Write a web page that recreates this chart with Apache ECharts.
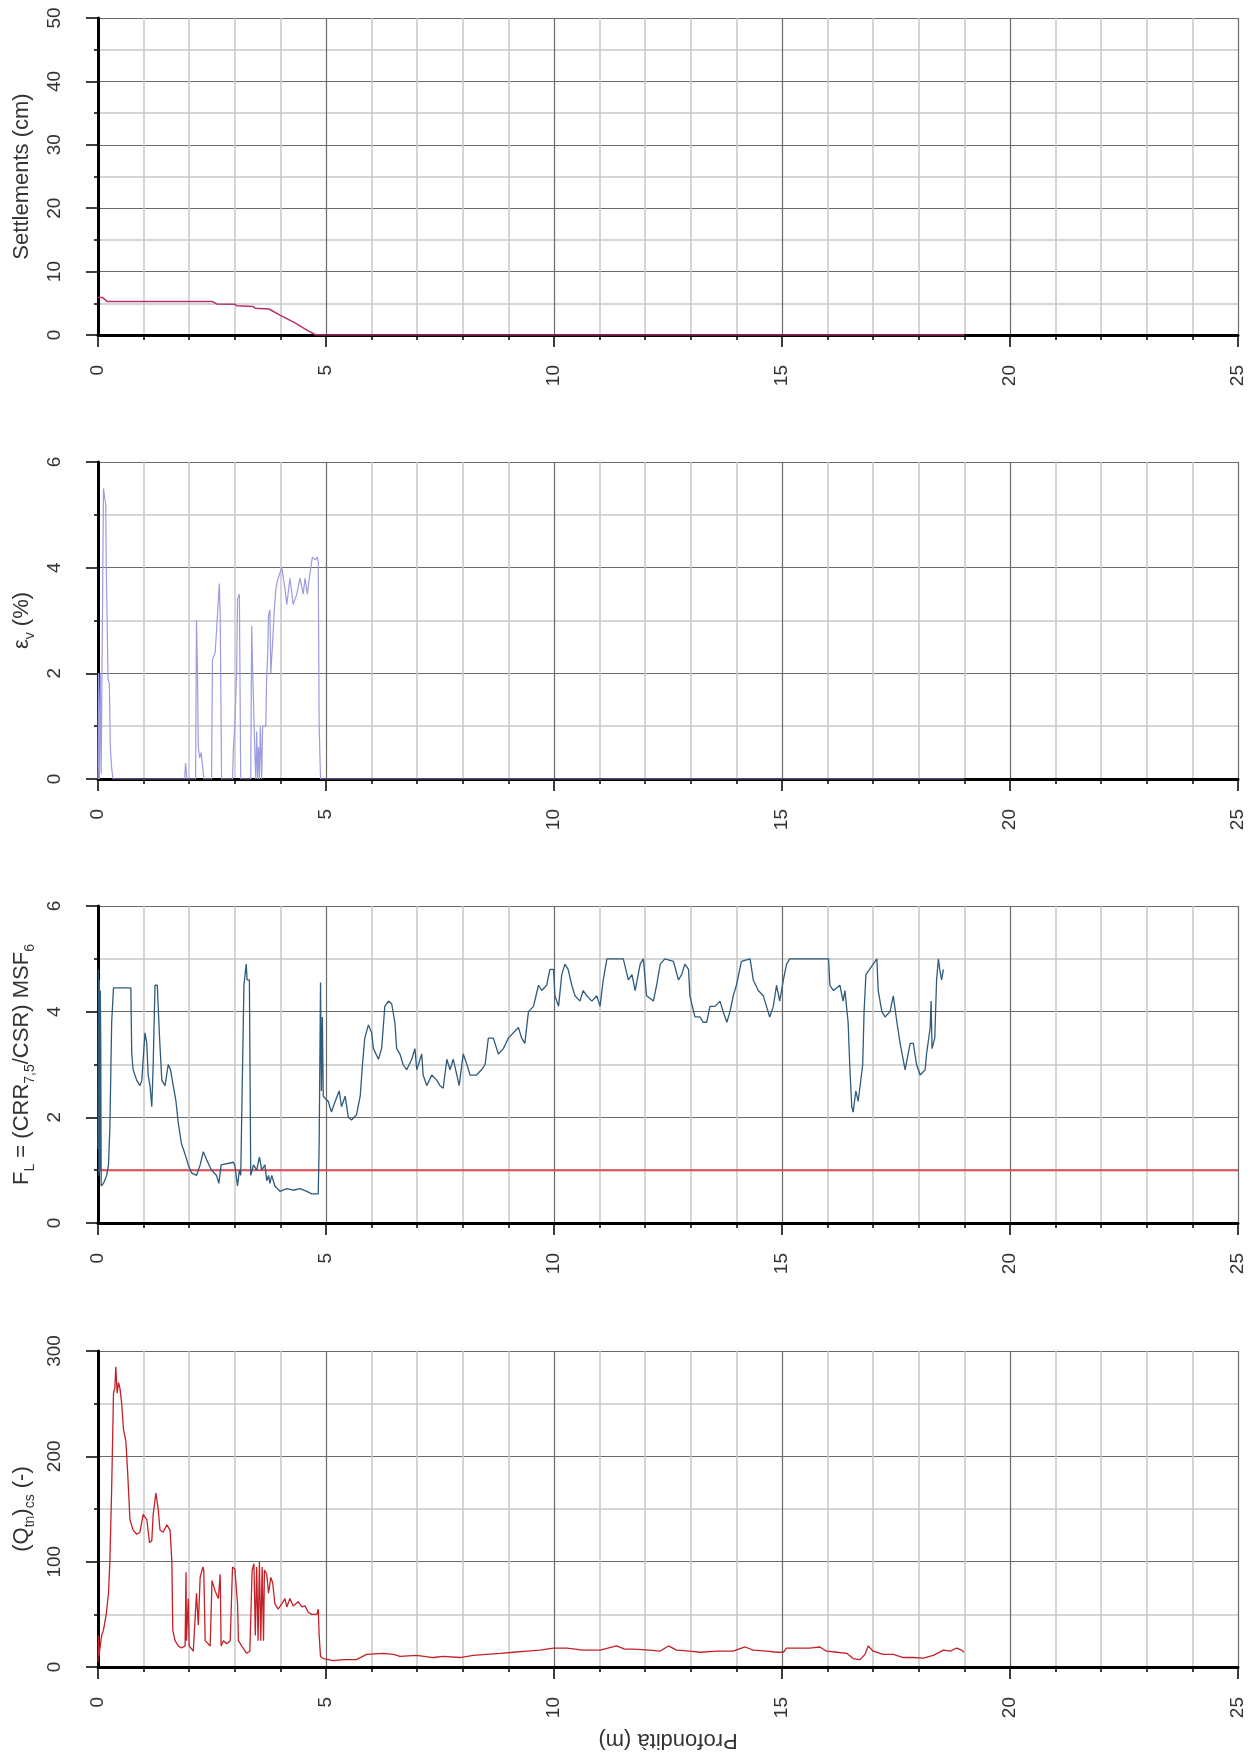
<!DOCTYPE html>
<html>
<head>
<meta charset="utf-8">
<script src="https://cdn.jsdelivr.net/npm/echarts@6/dist/echarts.min.js"></script>
<style>
html,body{margin:0;padding:0;background:#fff;}
#chart{width:1255px;height:1753px;}
</style>
</head>
<body>
<div id="chart"></div>
<script>
// ---------- DATA ----------
const depthMin = 0, depthMax = 25, depthStep = 5;

// Settlements (cm)
const settleDepth = [0, 0.1, 0.2, 2.5, 2.6, 3.0, 3.05, 3.4, 3.45, 3.75, 4.0, 4.3, 4.6, 4.78, 19];
const settleVal   = [5.9, 5.9, 5.3, 5.3, 4.9, 4.85, 4.6, 4.5, 4.2, 4.1, 3.1, 2.0, 0.7, 0, 0];

// Volumetric strain εv (%)
const epsDepth = [0, 0.01, 0.03, 0.05, 0.07, 0.1, 0.12, 0.15, 0.17, 0.18, 0.2, 0.22, 0.25, 0.27, 0.3, 0.33,
  1.9, 1.92, 1.95, 2.14, 2.16, 2.18, 2.2, 2.23, 2.26, 2.3, 2.32,
  2.49, 2.51, 2.57, 2.62, 2.66, 2.68, 2.71,
  2.95, 2.97, 3.0, 3.04, 3.06, 3.1, 3.13,
  3.35, 3.37, 3.39, 3.44, 3.46, 3.48, 3.5, 3.52, 3.54, 3.56, 3.59, 3.61, 3.63, 3.68, 3.7, 3.72, 3.74, 3.77, 3.79, 3.83, 3.86, 3.9, 3.95, 4.03, 4.1, 4.14, 4.21, 4.28, 4.36, 4.43, 4.5, 4.54, 4.59, 4.65, 4.7, 4.76, 4.81, 4.83, 4.85, 4.88, 19];
const epsVal = [0, 2.0, 0, 2.0, 0.1, 0.1, 5.5, 5.3, 5.2, 4.1, 4.1, 1.9, 1.8, 0.6, 0.2, 0,
  0, 0.3, 0, 0, 3.0, 2.1, 0.6, 0.4, 0.5, 0.2, 0,
  0, 2.25, 2.4, 3.1, 3.7, 3.1, 0,
  0, 0.6, 1.0, 2.0, 3.4, 3.5, 0,
  0, 2.9, 2.1, 0.5, 0, 0.9, 0, 0.6, 0, 1.0, 0, 1.0, 1.0, 1.0, 2.0, 2.3, 3.1, 3.2, 2.0, 2.6, 3.1, 3.6, 3.8, 4.0, 3.6, 3.3, 3.8, 3.3, 3.5, 3.8, 3.5, 3.8, 3.5, 3.9, 4.2, 4.15, 4.2, 4.1, 1.0, 0, 0];

// Factor of safety FL
const flDepth = [0, 0.01, 0.02, 0.03, 0.04, 0.05, 0.06, 0.07, 0.12, 0.19, 0.23, 0.26, 0.3, 0.34, 0.72, 0.74, 0.77, 0.85, 0.92, 0.96, 1.03, 1.07, 1.1, 1.14, 1.18, 1.21, 1.25, 1.3, 1.35, 1.4, 1.47, 1.51, 1.54, 1.59, 1.65, 1.71, 1.76, 1.83, 1.91, 1.98, 2.05, 2.16, 2.24, 2.31, 2.38, 2.49, 2.6, 2.65, 2.7, 2.97, 3.0, 3.06, 3.1, 3.13, 3.2, 3.25, 3.27, 3.32, 3.35, 3.41, 3.48, 3.54, 3.59, 3.66, 3.7, 3.74, 3.77, 3.81, 3.88, 3.99, 4.14, 4.28, 4.43, 4.58, 4.69, 4.83, 4.85, 4.88, 4.9, 4.92, 4.94,
  4.98, 5.05, 5.12, 5.2, 5.29, 5.34, 5.42, 5.49, 5.56, 5.67, 5.75, 5.8, 5.85, 5.93, 6.0, 6.04, 6.15, 6.22, 6.29, 6.37, 6.44, 6.51, 6.55, 6.62, 6.69, 6.77, 6.88, 6.95, 6.99, 7.1, 7.13, 7.21, 7.32, 7.43, 7.5, 7.57, 7.65, 7.72, 7.79, 7.87, 7.92, 8.01, 8.09, 8.16, 8.3, 8.41, 8.49, 8.56, 8.67, 8.78, 8.89, 9.0, 9.11, 9.22, 9.29, 9.36, 9.44, 9.55, 9.66, 9.73, 9.84, 9.91, 9.99, 10.02, 10.1, 10.17, 10.24, 10.31, 10.39, 10.46, 10.57, 10.64, 10.72, 10.83, 10.94, 11.01, 11.08, 11.16, 11.52, 11.63, 11.71, 11.78, 11.89, 11.96, 12.03, 12.18, 12.25, 12.33, 12.43, 12.62, 12.73, 12.8, 12.87, 12.95, 12.98, 13.09, 13.2, 13.27, 13.35, 13.42, 13.53, 13.64, 13.71, 13.79, 13.86, 13.93, 14.0, 14.11, 14.3, 14.37, 14.48, 14.59, 14.66, 14.73, 14.81, 14.88, 14.95, 15.03, 15.1, 15.17,
  16.02, 16.05, 16.13, 16.27, 16.34, 16.38, 16.45, 16.49, 16.53, 16.56, 16.62, 16.67, 16.71, 16.77, 16.8, 16.84, 17.08, 17.11, 17.19, 17.26, 17.37, 17.44, 17.52, 17.59, 17.7, 17.81, 17.88, 17.95, 18.03, 18.14, 18.17, 18.25, 18.27, 18.29, 18.35, 18.39, 18.43, 18.46, 18.5, 18.54];
const flVal = [1.4, 4.8, 0.9, 4.6, 1.0, 4.4, 3.5, 0.7, 0.75, 0.9, 1.1, 1.8, 3.8, 4.45, 4.45, 3.2, 2.9, 2.7, 2.6, 2.7, 3.6, 3.4, 2.8, 2.6, 2.2, 3.0, 4.5, 4.5, 3.5, 2.7, 2.6, 2.6, 3.0, 2.9, 2.6, 2.3, 1.9, 1.5, 1.3, 1.1, 0.95, 0.9, 1.1, 1.35, 1.2, 1.0, 0.9, 0.75, 1.1, 1.15, 1.1, 0.7, 1.0, 0.9, 4.5, 4.9, 4.6, 4.6, 0.9, 1.1, 1.0, 1.25, 1.0, 1.1, 0.8, 0.9, 0.75, 0.9, 0.7, 0.6, 0.65, 0.62, 0.65, 0.6, 0.55, 0.55, 1.5, 4.55, 2.5, 3.9, 2.4,
  2.4, 2.3, 2.1, 2.3, 2.5, 2.2, 2.4, 2.0, 1.95, 2.05, 2.4, 3.0, 3.5, 3.75, 3.6, 3.3, 3.1, 3.3, 4.1, 4.2, 4.15, 3.8, 3.3, 3.2, 3.0, 2.9, 3.1, 3.3, 2.9, 3.2, 2.8, 2.6, 2.8, 2.7, 2.6, 2.55, 3.1, 2.9, 3.1, 2.8, 2.6, 3.2, 3.0, 2.8, 2.8, 2.9, 3.0, 3.5, 3.5, 3.2, 3.3, 3.5, 3.6, 3.7, 3.5, 3.4, 4.0, 4.1, 4.5, 4.4, 4.5, 4.8, 4.8, 4.3, 4.1, 4.7, 4.9, 4.8, 4.5, 4.3, 4.2, 4.4, 4.3, 4.2, 4.3, 4.1, 4.6, 5.0, 5.0, 4.6, 4.7, 4.4, 4.9, 5.0, 4.3, 4.2, 4.5, 4.9, 5.0, 4.95, 4.6, 4.7, 4.9, 4.8, 4.3, 3.9, 3.9, 3.8, 3.8, 4.1, 4.1, 4.2, 4.0, 3.8, 4.0, 4.3, 4.5, 4.95, 5.0, 4.6, 4.4, 4.3, 4.1, 3.9, 4.1, 4.5, 4.2, 4.6, 4.9, 5.0,
  5.0, 4.5, 4.4, 4.5, 4.2, 4.4, 3.8, 2.9, 2.2, 2.1, 2.5, 2.3, 2.3, 3.0, 4.0, 4.7, 5.0, 4.4, 4.0, 3.9, 4.0, 4.3, 3.8, 3.4, 2.9, 3.4, 3.4, 3.0, 2.8, 2.9, 3.2, 3.7, 4.2, 3.3, 3.5, 4.6, 5.0, 4.8, 4.6, 4.8];
const flLimit = 1.0;

// Normalized cone resistance (Qtn)cs
const qcDepth = [0, 0.01, 0.02, 0.04, 0.08, 0.12, 0.18, 0.23, 0.26, 0.3, 0.34, 0.37, 0.39, 0.42, 0.45, 0.48, 0.52, 0.56, 0.61, 0.65, 0.7, 0.77, 0.85, 0.92, 0.99, 1.07, 1.13, 1.18, 1.21, 1.27, 1.32, 1.36, 1.43, 1.51, 1.58, 1.62, 1.64, 1.69, 1.76, 1.83, 1.91, 1.93, 1.94, 1.98, 2.0, 2.09, 2.16, 2.2, 2.24, 2.3, 2.32, 2.35, 2.46, 2.5, 2.57, 2.64, 2.68, 2.7, 2.75, 2.82, 2.9, 2.95, 3.0, 3.06, 3.08, 3.15, 3.26, 3.33, 3.38, 3.42, 3.45, 3.48, 3.51, 3.54, 3.57, 3.6, 3.63, 3.65, 3.7, 3.74, 3.79, 3.83, 3.88, 3.95, 4.03, 4.1, 4.14, 4.21, 4.28, 4.39, 4.47, 4.54, 4.61, 4.69, 4.8, 4.83, 4.85, 4.88, 4.94, 5.16, 5.38, 5.67, 5.89, 6.26, 6.48, 6.62, 6.99, 7.35, 7.57, 7.94, 8.23, 8.52, 8.82, 9.11, 9.4, 9.69, 9.99, 10.28, 10.64, 11.01, 11.37, 11.55, 11.74, 12.1, 12.32, 12.51, 12.69, 12.98, 13.2, 13.57, 13.93, 14.19, 14.37, 14.67, 14.89, 15.03, 15.1, 15.61, 15.83, 15.98, 16.2, 16.42, 16.56, 16.71, 16.82, 16.89, 17.0, 17.22, 17.44, 17.66, 17.88, 18.1, 18.32, 18.54, 18.69, 18.83, 18.94, 18.99];
const qcVal = [5, 30, 10, 10, 30, 35, 50, 70, 100, 170, 260, 265, 285, 260, 270, 265, 250, 225, 215, 185, 140, 130, 126, 128, 145, 140, 118, 120, 145, 165, 150, 130, 128, 135, 130, 100, 35, 25, 20, 18, 20, 90, 25, 65, 20, 15, 70, 40, 85, 95, 92, 25, 20, 82, 72, 65, 88, 20, 25, 22, 25, 95, 93, 60, 25, 20, 13, 15, 92, 98, 30, 95, 25, 100, 25, 95, 25, 92, 88, 70, 85, 80, 60, 55, 60, 65, 57, 65, 58, 62, 57, 58, 52, 50, 50, 55, 30, 10, 8, 6, 7, 7, 12, 13, 12, 10, 11, 9, 10, 9, 11, 12, 13, 14, 15, 16, 18, 18, 16, 16, 20, 17, 17, 16, 15, 20, 16, 15, 14, 15, 15, 19, 16, 15, 14, 14, 18, 18, 19, 15, 14, 13, 8, 7, 12, 20, 15, 12, 12, 9, 9, 8.5, 11, 16, 15, 18, 16, 14];

// Y axes ranges
const yMax = [50, 6, 6, 300];
const yStep = [10, 2, 2, 100];
const yNames = [
  'Settlements (cm)',
  '{n|ε}{s|v}{n| (%)}',
  '{n|F}{s|L}{n| = (CRR}{s|7,5}{n|/CSR) MSF}{s|6}',
  '{n|(Q}{s|tn}{n|)}{s|cs}{n| (-)}'
];
const xName = 'Profondità (m)';

// ---------- CHART ----------
const zip = (a, b) => a.map((v, i) => [v, b[i]]);
const FONT = '"Liberation Sans", Arial, sans-serif';
const gridTops = [18, 462, 906, 1351];
const gridH = [317, 317, 317, 316];

const grids = gridTops.map((t, i) => ({left: 98, width: 1140, top: t, height: gridH[i], outerBoundsMode: 'none', containLabel: false}));

const xAxes = gridTops.map((t, i) => ({
  type: 'value', gridIndex: i, min: depthMin, max: depthMax, interval: depthStep,
  name: i === 3 ? xName : '', nameLocation: 'middle', nameGap: 61, nameRotate: 180,
  nameTextStyle: {fontFamily: FONT, fontSize: 22, color: '#333', lineHeight: 24},
  axisLine: {onZero: false, lineStyle: {color: '#000', width: 3}},
  axisTick: {length: 12, lineStyle: {color: '#000', width: 1.5}},
  minorTick: {show: true, splitNumber: 5, length: 5, lineStyle: {color: '#000', width: 1.5}},
  axisLabel: {rotate: 90, margin: 30, fontFamily: FONT, fontSize: 19, color: '#333'},
  splitLine: {show: true, lineStyle: {color: '#6a6a6a', width: 1.2}},
  minorSplitLine: {show: true, lineStyle: {color: '#c8c8c8', width: 1.5}}
}));

const richStyle = {
  n: {fontFamily: FONT, fontSize: 22, color: '#333', lineHeight: 30, verticalAlign: 'middle'},
  s: {fontFamily: FONT, fontSize: 14, color: '#333', lineHeight: 14, verticalAlign: 'bottom'}
};

const yAxes = gridTops.map((t, i) => ({
  type: 'value', gridIndex: i, min: 0, max: yMax[i], interval: yStep[i],
  name: yNames[i], nameLocation: 'middle', nameGap: 55,
  nameTextStyle: {fontFamily: FONT, fontSize: 22, color: '#333', lineHeight: 30, rich: richStyle},
  axisLine: {show: true, onZero: false, lineStyle: {color: '#000', width: 3}},
  axisTick: {show: true, length: 12, lineStyle: {color: '#000', width: 1.5}},
  minorTick: {show: true, splitNumber: 2, length: 4, lineStyle: {color: '#000', width: 1.5}},
  axisLabel: {rotate: 90, margin: 34, fontFamily: FONT, fontSize: 19, color: '#333'},
  splitLine: {show: true, lineStyle: {color: '#6a6a6a', width: 1.2}},
  minorSplitLine: {show: true, lineStyle: {color: '#c8c8c8', width: 1.5}}
}));

const lineSeries = (i, data, color, w) => ({
  type: 'line', xAxisIndex: i, yAxisIndex: i, data, showSymbol: false, symbol: 'none',
  lineStyle: {color, width: w}, silent: true, z: 3
});

const option = {
  animation: false,
  backgroundColor: '#fff',
  grid: grids,
  xAxis: xAxes,
  yAxis: yAxes,
  series: [
    lineSeries(0, zip(settleDepth, settleVal), '#b8306a', 1.5),
    lineSeries(1, zip(epsDepth, epsVal), '#9c9ce0', 1.2),
    lineSeries(2, [[depthMin, flLimit], [depthMax, flLimit]], '#e04a55', 2),
    lineSeries(2, zip(flDepth, flVal), '#2f5b7c', 1.3),
    lineSeries(3, zip(qcDepth, qcVal), '#c42028', 1.3)
  ]
};

const chart = echarts.init(document.getElementById('chart'), null, {renderer: 'canvas'});
chart.setOption(option);
</script>
</body>
</html>
